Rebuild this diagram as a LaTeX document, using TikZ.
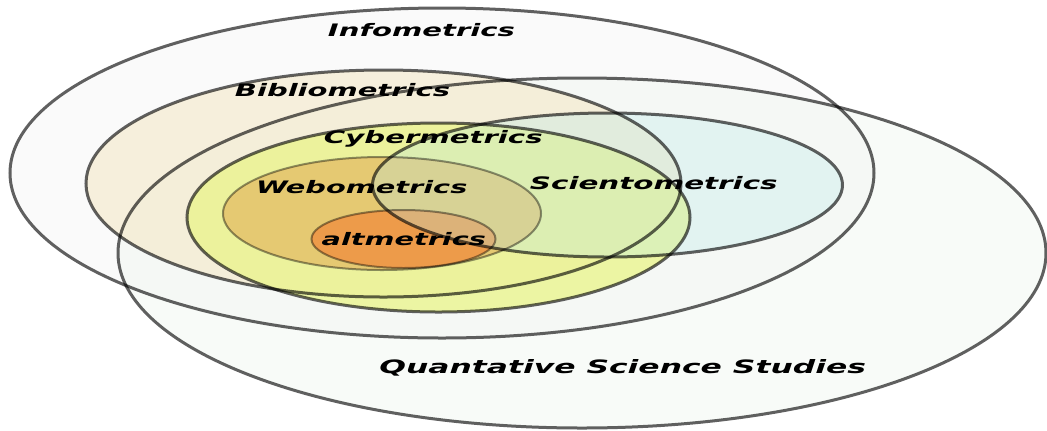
\documentclass[tikz,border=0pt]{standalone}
\usepackage{fontspec}
\setmainfont{DejaVu Sans}
\usepackage{graphicx}
\definecolor{infofill}{HTML}{FAFAFA}
\definecolor{qssfill}{HTML}{EEF5EE}
\definecolor{bibfill}{HTML}{F4E6BF}
\definecolor{cybfill}{HTML}{EAF488}
\definecolor{webfill}{HTML}{E0A850}
\definecolor{altfill}{HTML}{F09040}
\definecolor{scifill}{HTML}{B8E8E8}
\tikzset{
  outer/.style={draw=black, draw opacity=0.62, line width=2.25pt},
  inner/.style={draw=black, draw opacity=0.42, line width=1.5pt},
  lbl/.style={anchor=base, inner sep=0pt, font=\bfseries\itshape},
}
\begin{document}
\begin{tikzpicture}[x=0.75pt,y=-0.75pt]
\useasboundingbox (0,0) rectangle (1047,430);
% fills
\fill[infofill] (442,173) ellipse [x radius=432, y radius=165];
\fill[qssfill, fill opacity=0.4] (582,253) ellipse [x radius=464, y radius=175];
\fill[bibfill, fill opacity=0.5] (383.5,183.5) ellipse [x radius=297.5, y radius=113.5];
\fill[cybfill, fill opacity=0.75] (438.5,217.5) ellipse [x radius=251.5, y radius=94.5];
\fill[webfill, fill opacity=0.55] (382,213.5) ellipse [x radius=159, y radius=56.5];
\fill[altfill, fill opacity=0.8] (403.5,239) ellipse [x radius=92, y radius=29];
\fill[scifill, fill opacity=0.3] (607.5,185) ellipse [x radius=235, y radius=72];
% outlines
\path[outer] (442,173) ellipse [x radius=432, y radius=165];
\path[outer] (582,253) ellipse [x radius=464, y radius=175];
\path[outer] (383.5,183.5) ellipse [x radius=297.5, y radius=113.5];
\path[outer] (438.5,217.5) ellipse [x radius=251.5, y radius=94.5];
\path[inner] (382,213.5) ellipse [x radius=159, y radius=56.5];
\path[inner] (403.5,239) ellipse [x radius=92, y radius=29];
\path[outer] (607.5,185) ellipse [x radius=235, y radius=72];
% labels
\node[lbl] (info) at (421.5,36) {\resizebox{140.3pt}{9.8pt}{Infometrics}};
\node[lbl] (bib) at (342.5,96.7) {\resizebox{161.3pt}{9.8pt}{Bibliometrics}};
\node[lbl] (cyb) at (433.3,143.3) {\resizebox{164pt}{9.8pt}{Cybermetrics}};
\node[lbl] (web) at (361.7,193.3) {\resizebox{158.5pt}{9.8pt}{Webometrics}};
\node[lbl] (alt) at (403.8,245) {\resizebox{123.2pt}{9.8pt}{altmetrics}};
\node[lbl] (sci) at (653.8,189.3) {\resizebox{185.8pt}{9.8pt}{Scientometrics}};
\node[lbl] (qss) at (622.7,373) {\resizebox{365pt}{10.5pt}{Quantative Science Studies}};
\end{tikzpicture}
\end{document}
